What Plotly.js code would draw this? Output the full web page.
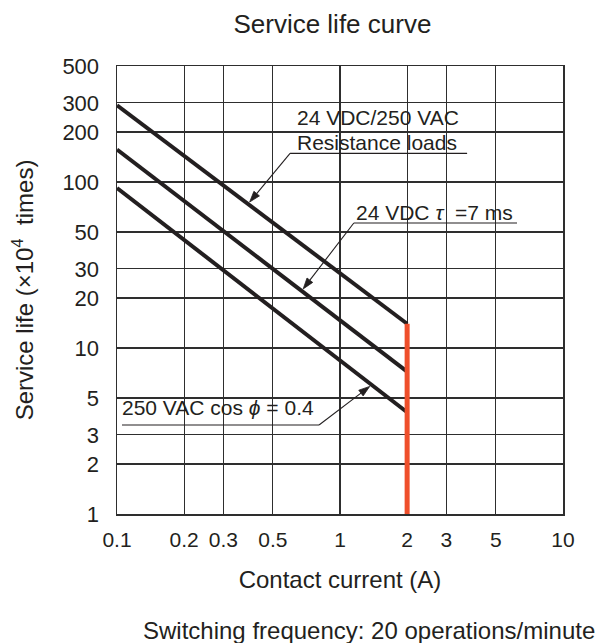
<!DOCTYPE html>
<html>
<head>
<meta charset="utf-8">
<script src="https://cdn.plot.ly/plotly-3.0.1.min.js"></script>
<style>
  html, body { margin: 0; padding: 0; background: #ffffff; }
  #chart { width: 600px; height: 643px; }
</style>
</head>
<body>
<div id="chart"></div>
<script>
// ---- data ----
const contactCurrent = [0.1, 2];                 // A
const lifeResistive   = [290, 14];               // 24 VDC/250 VAC resistance loads (x10^4)
const lifeDCInductive = [157, 7.2];              // 24 VDC tau = 7 ms
const lifeACInductive = [92, 4.1];               // 250 VAC cos phi = 0.4
const limitCurrent = [2, 2];                     // rated current limit
const limitLife    = [1, 14];

const xTickVals = [0.1, 0.2, 0.3, 0.5, 1, 2, 3, 5, 10];
const xTickText = ['0.1', '0.2', '0.3', '0.5', '1', '2', '3', '5', '10'];
const yTickVals = [1, 2, 3, 5, 10, 20, 30, 50, 100, 200, 300, 500];
const yTickText = ['1', '2', '3', '5', '10', '20', '30', '50', '100', '200', '300', '500'];

const seriesNames = ['24 VDC/250 VAC Resistance loads', '24 VDC τ =7 ms', '250 VAC cos ϕ = 0.4'];

// ---- styling ----
const FONT = '"Liberation Sans", Arial, Helvetica, sans-serif';
const INK = '#231f20';
const GRID = '#2e2e2e';
const M = { l: 117, r: 37, t: 66, b: 129 };
const W = 600 - M.l - M.r, H = 643 - M.t - M.b;   // plot area size in px

function curve(y, name) {
  return {
    type: 'scatter', mode: 'lines', x: contactCurrent, y: y, name: name,
    line: { color: INK, width: 4 }, hoverinfo: 'x+y+name'
  };
}

const traces = [
  curve(lifeResistive, seriesNames[0]),
  curve(lifeDCInductive, seriesNames[1]),
  curve(lifeACInductive, seriesNames[2]),
  {
    type: 'scatter', mode: 'lines', x: limitCurrent, y: limitLife, name: 'limit',
    line: { color: '#ef4f2b', width: 5 }
  }
];

const X0 = -1, X1 = 1, Y0 = 0, Y1 = Math.log10(500);
// point on a (log-log straight) curve at current c, returned in plot px (y up)
function onCurve(series, c) {
  const lx0 = Math.log10(contactCurrent[0]), lx1 = Math.log10(contactCurrent[1]);
  const ly0 = Math.log10(series[0]), ly1 = Math.log10(series[1]);
  const t = (Math.log10(c) - lx0) / (lx1 - lx0);
  const ly = ly0 + t * (ly1 - ly0);
  return [(Math.log10(c) - X0) / (X1 - X0) * W, (ly - Y0) / (Y1 - Y0) * H];
}

// label geometry (paper coordinates)
const underlines = [
  { x0: 0.388, x1: 0.785, y: 0.805 },
  { x0: 0.531, x1: 0.897, y: 0.6496 },
  { x0: 0.0112, x1: 0.453, y: 0.1987 }
];
const boxes = [
  { x0: 0.388, x1: 0.787, y0: 0.806, y1: 0.913 },
  { x0: 0.527, x1: 0.899, y0: 0.651, y1: 0.701 },
  { x0: 0.0056, x1: 0.451, y0: 0.200, y1: 0.272 }
];
// leader: tip on curve at a current value, tail at an underline end
const leaders = [
  { series: lifeResistive, at: 0.387, tail: [underlines[0].x0, underlines[0].y] },
  { series: lifeDCInductive, at: 0.673, tail: [underlines[1].x0, underlines[1].y] },
  { series: lifeACInductive, at: 1.387, tail: [underlines[2].x1, underlines[2].y] }
];

const shapes = [];
boxes.forEach(b => shapes.push({
  type: 'rect', xref: 'paper', yref: 'paper', x0: b.x0, x1: b.x1, y0: b.y0, y1: b.y1,
  fillcolor: '#ffffff', line: { width: 0 }, layer: 'between'
}));
underlines.forEach(u => shapes.push({
  type: 'line', xref: 'paper', yref: 'paper', x0: u.x0, x1: u.x1, y0: u.y, y1: u.y,
  line: { color: INK, width: 1.2 }, layer: 'above'
}));
const HEAD_LEN = 11, HEAD_HALF = 3.6, STANDOFF = 2.5;
leaders.forEach(l => {
  const c = onCurve(l.series, l.at);
  const tail = [l.tail[0] * W, l.tail[1] * H];
  let dx = c[0] - tail[0], dy = c[1] - tail[1];
  const len = Math.hypot(dx, dy); dx /= len; dy /= len;
  const tip = [c[0] - dx * STANDOFF, c[1] - dy * STANDOFF];
  const base = [tip[0] - dx * HEAD_LEN, tip[1] - dy * HEAD_LEN];
  const nx = -dy, ny = dx;
  const P = p => (p[0] / W).toFixed(5) + ',' + (p[1] / H).toFixed(5);
  shapes.push({
    type: 'line', xref: 'paper', yref: 'paper',
    x0: l.tail[0], y0: l.tail[1], x1: base[0] / W, y1: base[1] / H,
    line: { color: INK, width: 1.1 }, layer: 'above'
  });
  shapes.push({
    type: 'path', xref: 'paper', yref: 'paper', layer: 'above',
    path: 'M' + P(tip) + ' L' + P([base[0] + nx * HEAD_HALF, base[1] + ny * HEAD_HALF]) +
          ' L' + P([base[0] - nx * HEAD_HALF, base[1] - ny * HEAD_HALF]) + ' Z',
    fillcolor: INK, line: { color: INK, width: 0.8 }
  });
});

const labelFont = { family: FONT, size: 21, color: INK };
const annotations = [
  { xref: 'paper', yref: 'paper', x: 0.399, y: 0.885, xanchor: 'left', yanchor: 'middle',
    text: '24 VDC/250 VAC', showarrow: false, font: labelFont },
  { xref: 'paper', yref: 'paper', x: 0.399, y: 0.829, xanchor: 'left', yanchor: 'middle',
    text: 'Resistance loads', showarrow: false, font: labelFont },
  { xref: 'paper', yref: 'paper', x: 0.531, y: 0.674, xanchor: 'left', yanchor: 'middle',
    text: '24 VDC <i>τ</i>\u00a0\u00a0=7 ms', showarrow: false, font: labelFont },
  { xref: 'paper', yref: 'paper', x: 0.007, y: 0.2377, xanchor: 'left', yanchor: 'middle',
    text: '250 VAC cos\u00a0<i>ϕ</i> = 0.4', showarrow: false, font: labelFont },
  { xref: 'paper', yref: 'paper', x: 1.0762, y: -0.259, xanchor: 'right', yanchor: 'middle',
    text: 'Switching frequency: 20 operations/minute', showarrow: false,
    font: { family: FONT, size: 24, color: INK } }
];

const axisCommon = {
  type: 'log', showgrid: true, gridcolor: GRID, gridwidth: 1.2,
  showline: true, mirror: true, linecolor: GRID, linewidth: 1.5,
  ticks: '', zeroline: false, tickmode: 'array', automargin: false
};

const layout = {
  width: 600, height: 643,
  margin: M,
  paper_bgcolor: '#ffffff', plot_bgcolor: '#ffffff',
  showlegend: false,
  font: { family: FONT, color: INK },
  title: {
    text: 'Service life curve', font: { family: FONT, size: 26, color: INK },
    xref: 'paper', x: 0.483, xanchor: 'center', yref: 'container', y: 1 - 24 / 643, yanchor: 'middle'
  },
  xaxis: Object.assign({}, axisCommon, {
    range: [X0, X1], tickvals: xTickVals, ticktext: xTickText, ticklabelstandoff: 6,
    tickfont: { family: FONT, size: 21, color: INK },
    title: { text: 'Contact current (A)', font: { family: FONT, size: 24, color: INK }, standoff: 21 }
  }),
  yaxis: Object.assign({}, axisCommon, {
    range: [Y0, Y1], tickvals: yTickVals, ticktext: yTickText, ticklabelstandoff: 12,
    tickfont: { family: FONT, size: 22, color: INK },
    title: { text: 'Service life (×10<sup>4</sup>\u00a0\u00a0times)', font: { family: FONT, size: 24, color: INK }, standoff: 22 }
  }),
  shapes: shapes,
  annotations: annotations
};

Plotly.newPlot('chart', traces, layout, { staticPlot: true, displayModeBar: false });
</script>
</body>
</html>
